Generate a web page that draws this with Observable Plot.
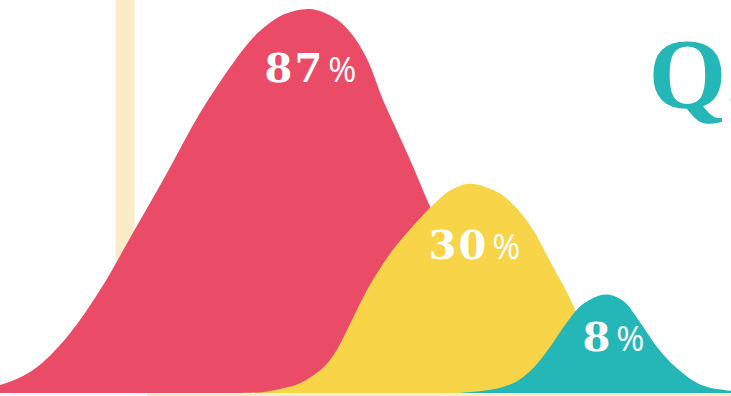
<!DOCTYPE html>
<html>
<head>
<meta charset="utf-8">
<script src="https://cdn.jsdelivr.net/npm/d3@7"></script>
<script src="https://cdn.jsdelivr.net/npm/@observablehq/plot@0.6"></script>
<style>
  html, body { margin: 0; padding: 0; background: #fff; overflow: hidden; }
  #chart svg { display: block; }
</style>
</head>
<body>
<div id="chart"></div>
<script>
// Shares shown on each curve (peak values).
const shares = [87, 30, 8];

// Curve outlines: horizontal positions and height as a share of each curve's peak.
const redX     = [-30, 0, 33, 67, 100, 133, 167, 200, 233, 253, 267, 283, 310, 333, 350, 367, 383, 398, 413, 427, 450, 480, 510, 540, 570];
const redShape = [0.007, 0.021, 0.060, 0.146, 0.268, 0.417, 0.573, 0.729, 0.859, 0.925, 0.958, 0.985, 1, 0.979, 0.94, 0.87, 0.763, 0.677, 0.590, 0.503, 0.37, 0.2, 0.08, 0.02, 0];

const yellowX     = [240, 262, 283, 300, 323, 336, 350, 368, 390, 417, 433, 450, 470, 500, 517, 533, 550, 567, 578, 600, 625, 650, 680];
const yellowShape = [0, 0.004, 0.023, 0.047, 0.121, 0.2, 0.33, 0.5, 0.665, 0.819, 0.898, 0.967, 1, 0.953, 0.88, 0.78, 0.63, 0.48, 0.37, 0.17, 0.06, 0.015, 0];

const tealX     = [460, 483, 500, 517, 533, 550, 567, 583, 605, 623, 640, 657, 677, 700, 731, 760];
const tealShape = [0, 0.022, 0.054, 0.12, 0.25, 0.467, 0.717, 0.902, 1, 0.935, 0.717, 0.467, 0.25, 0.087, 0.022, 0];

// Styling
const colors = ["#EA4C68", "#F7D448", "#25B7B7"];
const BEIGE = "#FBECC8";
const TEAL = "#25B7B7";
const EXPONENT = 0.57;          // power scale for the vertical axis
const labelDx = [0, 4, 8];
const labelDy = [73, 75, 56];

const curves = [
  {x: redX, shape: redShape},
  {x: yellowX, shape: yellowShape},
  {x: tealX, shape: tealShape}
];

// Turn each outline into values so that the power scale maps the peak to its share.
const rows = curves.flatMap((c, i) =>
  c.x.map((x, j) => ({series: i, x, y: shares[i] * Math.pow(c.shape[j], 1 / EXPONENT)}))
);
const peaks = curves.map((c, i) => ({series: i, share: shares[i], x: c.x[d3.maxIndex(c.shape)]}));

const chart = Plot.plot({
  width: 731,
  height: 396,
  marginTop: 0,
  marginRight: 0,
  marginBottom: 3,
  marginLeft: 0,
  style: {background: "white"},
  x: {domain: [0, 731], axis: null},
  y: {type: "pow", exponent: EXPONENT, domain: [0, 90.6], axis: null},
  marks: [
    Plot.ruleX([124.5], {stroke: BEIGE, strokeWidth: 19}),
    Plot.ruleY([0], {x1: 147, x2: 731, stroke: BEIGE, strokeWidth: 3, dy: 1.5}),
    ...curves.map((c, i) => Plot.areaY(rows.filter(d => d.series === i), {
      x: "x", y: "y", fill: colors[i], curve: "catmull-rom", clip: true
    })),
    ...peaks.map((p, i) => Plot.text([p], {
      x: "x", y: "share", text: d => `${d.share}%`,
      textAnchor: "middle", lineAnchor: "bottom",
      dx: labelDx[i], dy: labelDy[i],
      fill: "white", fontFamily: "DejaVu Serif", fontWeight: "bold", fontSize: 40
    })),
    Plot.text(["Q."], {
      text: d => d, frameAnchor: "top-left", textAnchor: "start", lineAnchor: "top",
      dx: 648, dy: 35, fill: TEAL, fontFamily: "Liberation Serif", fontWeight: "bold", fontSize: 100
    })
  ]
});

// Set the percent sign in a lighter sans face next to the digits.
d3.select(chart).selectAll("text").each(function() {
  const m = /^(\d+)%$/.exec(this.textContent);
  if (!m) return;
  const t = d3.select(this).text("");
  t.append("tspan").attr("letter-spacing", 2).text(m[1]);
  t.append("tspan").attr("font-family", "Open Sans").attr("font-weight", "normal")
    .attr("font-size", 34).attr("dx", 4).text("%");
});

document.getElementById("chart").append(chart);
</script>
</body>
</html>
